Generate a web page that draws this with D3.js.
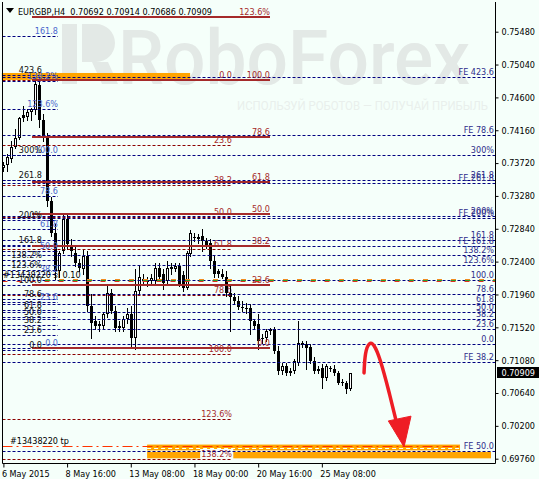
<!DOCTYPE html>
<html>
<head>
<meta charset="utf-8">
<script src="https://cdn.jsdelivr.net/npm/d3@7"></script>
<style>
  body { margin: 0; background: #F5FFFA; }
  svg { display: block; font-family: "DejaVu Sans Condensed", "DejaVu Sans", sans-serif; font-size: 9px; }
</style>
</head>
<body>
<div id="chart"></div>
<script>
var symbol = "EURGBP,H4";

// H4 bars: open, high, low, close
var bars = [
  [0.7365,0.7374,0.7361,0.7370],[0.7370,0.7384,0.7361,0.7380],[0.7378,0.7401,0.7374,0.7394],[0.7394,0.7417,0.7392,0.7406],
  [0.7406,0.7434,0.7404,0.7432],[0.7437,0.7448,0.7428,0.7433],[0.7434,0.7444,0.7430,0.7441],[0.7440,0.7446,0.7430,0.7444],
  [0.7443,0.7486,0.7438,0.7478],[0.7477,0.7487,0.7421,0.7430],[0.7430,0.7438,0.7401,0.7408],[0.7408,0.7412,0.7314,0.7321],
  [0.7321,0.7326,0.7274,0.7278],[0.7278,0.7290,0.7217,0.7227],[0.7227,0.7254,0.7220,0.7251],[0.7254,0.7303,0.7251,0.7297],
  [0.7297,0.7303,0.7257,0.7263],[0.7261,0.7270,0.7247,0.7254],[0.7251,0.7261,0.7234,0.7238],[0.7238,0.7243,0.7227,0.7231],
  [0.7230,0.7257,0.7224,0.7247],[0.7247,0.7254,0.7174,0.7181],[0.7181,0.7196,0.7138,0.7158],[0.7160,0.7167,0.7150,0.7154],
  [0.7154,0.7160,0.7147,0.7157],[0.7154,0.7171,0.7150,0.7170],[0.7170,0.7207,0.7166,0.7198],[0.7198,0.7203,0.7171,0.7174],
  [0.7174,0.7180,0.7147,0.7151],[0.7151,0.7160,0.7147,0.7154],[0.7151,0.7167,0.7147,0.7163],[0.7163,0.7178,0.7158,0.7170],
  [0.7170,0.7180,0.7124,0.7138],[0.7138,0.7230,0.7123,0.7201],[0.7201,0.7234,0.7198,0.7220],[0.7217,0.7224,0.7211,0.7214],
  [0.7213,0.7219,0.7207,0.7215],[0.7214,0.7224,0.7210,0.7218],[0.7214,0.7238,0.7211,0.7231],[0.7231,0.7238,0.7217,0.7220],
  [0.7223,0.7230,0.7203,0.7211],[0.7214,0.7241,0.7210,0.7231],[0.7230,0.7238,0.7224,0.7233],[0.7230,0.7238,0.7227,0.7234],
  [0.7234,0.7238,0.7207,0.7210],[0.7222,0.7227,0.7201,0.7205],[0.7205,0.7254,0.7203,0.7251],[0.7250,0.7282,0.7247,0.7278],
  [0.7271,0.7278,0.7267,0.7273],[0.7270,0.7277,0.7265,0.7273],[0.7274,0.7284,0.7254,0.7267],[0.7267,0.7272,0.7258,0.7261],
  [0.7265,0.7270,0.7231,0.7241],[0.7241,0.7247,0.7220,0.7224],[0.7227,0.7230,0.7220,0.7223],[0.7224,0.7230,0.7218,0.7220],
  [0.7220,0.7227,0.7194,0.7198],[0.7198,0.7207,0.7147,0.7192],[0.7192,0.7198,0.7184,0.7187],[0.7187,0.7194,0.7176,0.7179],
  [0.7178,0.7187,0.7174,0.7179],[0.7178,0.7184,0.7171,0.7176],[0.7178,0.7183,0.7143,0.7160],[0.7160,0.7163,0.7151,0.7154],
  [0.7157,0.7170,0.7123,0.7134],[0.7136,0.7143,0.7131,0.7138],[0.7138,0.7150,0.7134,0.7147],[0.7147,0.7151,0.7143,0.7150],
  [0.7150,0.7152,0.7118,0.7120],[0.7120,0.7127,0.7090,0.7094],[0.7094,0.7104,0.7090,0.7100],[0.7100,0.7104,0.7088,0.7091],
  [0.7094,0.7098,0.7088,0.7091],[0.7094,0.7110,0.7091,0.7107],[0.7104,0.7160,0.7102,0.7131],[0.7131,0.7134,0.7126,0.7128],
  [0.7130,0.7134,0.7096,0.7124],[0.7126,0.7130,0.7104,0.7107],[0.7107,0.7112,0.7091,0.7094],[0.7096,0.7100,0.7091,0.7094],
  [0.7098,0.7103,0.7071,0.7084],[0.7084,0.7103,0.7082,0.7100],[0.7098,0.7100,0.7094,0.7096],[0.7096,0.7102,0.7088,0.7091],
  [0.7091,0.7094,0.7076,0.7078],[0.7078,0.7083,0.7075,0.7079],[0.7078,0.7080,0.7064,0.7070],[0.70692,0.70914,0.70686,0.70909]
];

var timeTickBars = [0, 16, 32, 48, 64, 80];
var timeLabels = ["6 May 2015", "8 May 16:00", "13 May 08:00", "18 May 00:00", "20 May 16:00", "25 May 08:00"];
var priceTicks = [0.75480, 0.75040, 0.74600, 0.74160, 0.73720, 0.73280, 0.72840, 0.72400, 0.71960, 0.71520, 0.71080, 0.70640, 0.70200, 0.69760];

// fibo objects: price at level 0 and at level 100
var redSolidFib = [0.71244, 0.74834];
var redSolidLevels = [0, 23.6, 38.2, 50, 61.8, 78.6, 100, 123.6];
var redSolidLabels = ["0.0", "23.6", "38.2", "50.0", "61.8", "78.6", "100.0", "123.6%"];

var redDashFib = [0.74834, 0.71164];
var redDashLevels = [0, 23.6, 38.2, 50, 61.8, 78.6, 100, 123.6, 138.2];
var redDashLabels = ["0.0", "23.6", "38.2", "50.0", "61.8", "78.6", "100.0", "123.6%", "138.2%"];

var blueFib = [0.71244, 0.73829];
var blueLevels = [0, 23.6, 38.2, 50, 61.8, 78.6, 100, 123.6, 138.2, 161.8];
var blueLabels = ["0.0", "23.6", "38.2", "50.0", "61.8", "78.6", "100.0", "123.6%", "138.2%", "161.8"];

var expFib = [0.71217, 0.72088];
var expLevels = [0, 23.6, 38.2, 50, 61.8, 78.6, 100, 123.6, 138.2, 161.8, 200, 261.8, 300, 423.6];
var expLabels = ["0.0", "23.6", "38.2", "50.0", "61.8", "78.6", "100.0", "123.6%", "138.2%", "161.8", "200%", "261.8", "300%", "423.6"];

var rightFib = [0.71298, 0.72155];
var rightLevels = [0, 23.6, 38.2, 50, 61.8, 78.6, 100, 123.6, 138.2, 161.8];
var rightLabels = ["0.0", "23.6", "38.2", "50.0", "61.8", "78.6", "100.0", "123.6%", "138.2%", "161.8"];

var feLevels = [0.74874, 0.74097, 0.73829, 0.73494, 0.73454, 0.73012, 0.72985, 0.72610, 0.71056, 0.69864];
var feLabels = ["FE 423.6", "FE 78.6", "300%", "261.8", "FE 261.8", "200%", "FE 200%", "FE 161.8", "FE 38.2", "FE 50.0"];

// orders
var slPrice = 0.72155, slLabel = "#13438220 sl 0.10";
var tpPrice = 0.69931, tpLabel = "#13438220 tp";

// zones: top price, bottom price, first bar, last bar
var zones = [
  [0.74927, 0.74834, -0.4, 46.9],
  [0.69949, 0.69871, 36.1, 114.7],
  [0.69851, 0.69765, 36.1, 122.5]
];

// forecast arrow: bar, price
var arrowPath = [[90.6, 0.70909], [90.85, 0.71190], [91.9, 0.71324], [93.1, 0.71297], [94.6, 0.71110], [96.9, 0.70655], [99.2, 0.70150]];
var arrowHead = [[100.65, 0.69918], [96.7, 0.70266], [102.4, 0.70330]];

var outerWidth = 539, outerHeight = 479,
    frame = {left: 2.5, right: 495.5, top: 2, bottom: 463.5},
    bg = "#F5FFFA",
    navy = "#000080",
    fmt5 = d3.format(".5f");

var x = d3.scaleLinear().domain([0, 123.5]).range([3.4, 495]),
    y = d3.scaleLinear().domain([0.69760, 0.75480]).range([458.7, 31.7]);

var svg = d3.select("#chart").append("svg")
    .attr("width", outerWidth)
    .attr("height", outerHeight);

svg.append("rect").attr("width", outerWidth).attr("height", outerHeight).style("fill", bg);

// watermark
var wm = svg.append("g").style("fill", "#E3E9E6");
wm.append("path")
    .attr("d", "M62,24h15v60h-15z M82,24h14a19,19 0 0 1 0,38h-14z M92,62h16l10,22h-16z");
wm.append("text")
    .attr("x", 118).attr("y", 84)
    .attr("textLength", 352).attr("lengthAdjust", "spacingAndGlyphs")
    .style("font-family", "Roboto, sans-serif").style("font-weight", "500").style("font-size", "76px")
    .text("RoboForex");
wm.append("text")
    .attr("x", 237).attr("y", 110)
    .attr("textLength", 251).attr("lengthAdjust", "spacingAndGlyphs")
    .style("font-family", "Roboto, sans-serif").style("font-size", "12px").style("fill", "#E9EFEC")
    .text("ИСПОЛЬЗУЙ РОБОТОВ — ПОЛУЧАЙ ПРИБЫЛЬ");

function py(p) { return Math.round(y(p)) + 0.5; }

function hline(g, p, x1, x2, color, w, dash) {
  var yy = w % 2 ? py(p) : Math.round(y(p));
  g.append("line")
    .attr("x1", x1).attr("x2", x2).attr("y1", yy).attr("y2", yy)
    .style("stroke", color).style("stroke-width", w)
    .style("stroke-dasharray", dash || null);
}

function label(g, txt, xx, p, color, anchor) {
  return g.append("text")
    .attr("x", xx).attr("y", Math.round(y(p)) - 2)
    .attr("text-anchor", anchor || "end")
    .style("fill", color)
    .text(txt);
}

function fibPrice(fib, lvl) { return fib[0] + (fib[1] - fib[0]) * lvl / 100; }

// zones
var zoneG = svg.append("g");
zones.forEach(function(z) {
  zoneG.append("rect")
    .attr("x", x(z[2])).attr("width", x(z[3]) - x(z[2]))
    .attr("y", y(z[0])).attr("height", y(z[1]) - y(z[0]))
    .style("fill", "#FFA500");
});
hline(zoneG, (zones[1][0] + zones[1][1]) / 2 - 0.00002, x(zones[1][2]), x(zones[1][3]), "#fff", 1, "4,3");

// red dashed fibo labels sit on a background box
var labelG = svg.append("g");
redDashLevels.forEach(function(l, i) {
  var t = label(labelG, redDashLabels[i], 232, fibPrice(redDashFib, l), "#A52A2A");
  var b = t.node().getBBox();
  labelG.insert("rect", "text")
    .attr("x", b.x - 1).attr("y", b.y).attr("width", b.width + 2).attr("height", b.height)
    .style("fill", bg);
});

// candles
var candleG = svg.append("g");
bars.forEach(function(d, i) {
  var cx = Math.round(x(i)),
      top = Math.round(y(Math.max(d[0], d[3]))),
      bot = Math.round(y(Math.min(d[0], d[3]))),
      h = Math.max(1, bot - top);
  candleG.append("line")
    .attr("x1", cx + 0.5).attr("x2", cx + 0.5)
    .attr("y1", Math.round(y(d[1]))).attr("y2", Math.round(y(d[2])) + 1)
    .style("stroke", "#000");
  if (d[3] >= d[0] && h > 2) {
    candleG.append("rect")
      .attr("x", cx - 0.5).attr("y", top + 0.5).attr("width", 2).attr("height", h - 1)
      .style("fill", "#fff").style("stroke", "#000");
  } else {
    candleG.append("rect")
      .attr("x", cx - 1).attr("y", top).attr("width", 3).attr("height", h)
      .style("fill", "#000");
  }
});

// fibo lines
var lineG = svg.append("g");
rightLevels.forEach(function(l) { hline(lineG, fibPrice(rightFib, l), 2.5, 495, navy, 1, "3,2"); });
feLevels.forEach(function(p) { hline(lineG, p, 2.5, 495, navy, 1, "3,2"); });
blueLevels.forEach(function(l) { hline(lineG, fibPrice(blueFib, l), 2.5, 58, navy, 1, "3,2"); });
expLevels.forEach(function(l) { hline(lineG, fibPrice(expFib, l), 2.5, 58, navy, 1, "3,2"); });
redDashLevels.forEach(function(l) { hline(lineG, fibPrice(redDashFib, l), 2.5, 232, "#8B0000", 1, "3,2"); });
redSolidLevels.forEach(function(l) { hline(lineG, fibPrice(redSolidFib, l), 32, 270, "#A52A2A", 2); });

// stop loss and take profit
hline(lineG, slPrice + 0.00013, 45, 495, "#F08C20", 1, "5,9");
hline(lineG, slPrice, 45, 495, "#2A9E2A", 1, "5,9");
hline(lineG, slPrice - 0.00013, 2.5, 495, "#E03020", 1, "5,9");
hline(lineG, tpPrice, 2.5, x(zones[1][3]), "#FF3300", 1, "10,4,2,4");

// labels
var textG = svg.append("g");
redSolidLevels.forEach(function(l, i) { label(textG, redSolidLabels[i], 270, fibPrice(redSolidFib, l), "#A52A2A"); });
blueLevels.forEach(function(l, i) { label(textG, blueLabels[i], 58, fibPrice(blueFib, l), "#4A66CC"); });
expLevels.forEach(function(l, i) { label(textG, expLabels[i], 42, fibPrice(expFib, l), "#111"); });
rightLevels.forEach(function(l, i) { label(textG, rightLabels[i], 494, fibPrice(rightFib, l), "#2E2E8A"); });
feLevels.forEach(function(p, i) { label(textG, feLabels[i], 494, p, "#2E2E8A"); });
label(textG, slLabel, 3, slPrice, "#000", "start");
label(textG, tpLabel, 10, tpPrice, "#000", "start");

// forecast arrow
var arrowG = svg.append("g").style("stroke", "#EE1D25").style("fill", "#EE1D25");
arrowG.append("path")
    .attr("d", d3.line().x(function(d) { return x(d[0]); }).y(function(d) { return y(d[1]); }).curve(d3.curveBasis)(arrowPath))
    .style("fill", "none").style("stroke-width", 3.5).style("stroke-linecap", "round");
arrowG.append("path")
    .attr("d", d3.line().x(function(d) { return x(d[0]); }).y(function(d) { return y(d[1]); })(arrowHead) + "Z")
    .style("stroke-width", 1).style("stroke-linejoin", "round");

// frame
var frameG = svg.append("g").style("stroke", "#000");
frameG.append("line").attr("x1", frame.left).attr("x2", frame.left).attr("y1", frame.top).attr("y2", frame.bottom);
frameG.append("line").attr("x1", frame.right).attr("x2", frame.right).attr("y1", frame.top).attr("y2", frame.bottom);
frameG.append("line").attr("x1", frame.left).attr("x2", frame.right).attr("y1", frame.bottom).attr("y2", frame.bottom);

// axes
var yAxis = d3.axisRight(y).tickValues(priceTicks).tickFormat(fmt5).tickSize(3).tickPadding(3);
var yAxisG = svg.append("g")
    .attr("class", "yAxis")
    .attr("transform", "translate(" + frame.right + ",0)")
    .call(yAxis);
yAxisG.select(".domain").remove();
yAxisG.selectAll("text").style("fill", "#000");

var xAxis = d3.axisBottom(x).tickValues(timeTickBars).tickFormat(function(d, i) { return timeLabels[i]; }).tickSize(4).tickPadding(3);
var xAxisG = svg.append("g")
    .attr("class", "xAxis")
    .attr("transform", "translate(0," + frame.bottom + ")")
    .call(xAxis);
xAxisG.select(".domain").remove();
xAxisG.selectAll("text").attr("text-anchor", "start").attr("dx", "-2").style("fill", "#000");
svg.selectAll(".yAxis, .xAxis").attr("font-family", null).attr("font-size", null);

// current price
var last = bars[bars.length - 1];
svg.append("rect")
    .attr("x", 497).attr("y", Math.round(y(last[3])) - 6)
    .attr("width", 42).attr("height", 11)
    .style("fill", "#000");
svg.append("text")
    .attr("x", 501.5).attr("y", Math.round(y(last[3])) + 3)
    .style("fill", "#fff")
    .text(fmt5(last[3]));

// title
svg.append("path").attr("d", "M6,8h8l-4,5z").style("fill", "#000");
svg.append("text")
    .attr("x", 18).attr("y", 15)
    .style("white-space", "pre")
    .text(symbol + "  " + last.map(fmt5).join(" "));
</script>
</body>
</html>
